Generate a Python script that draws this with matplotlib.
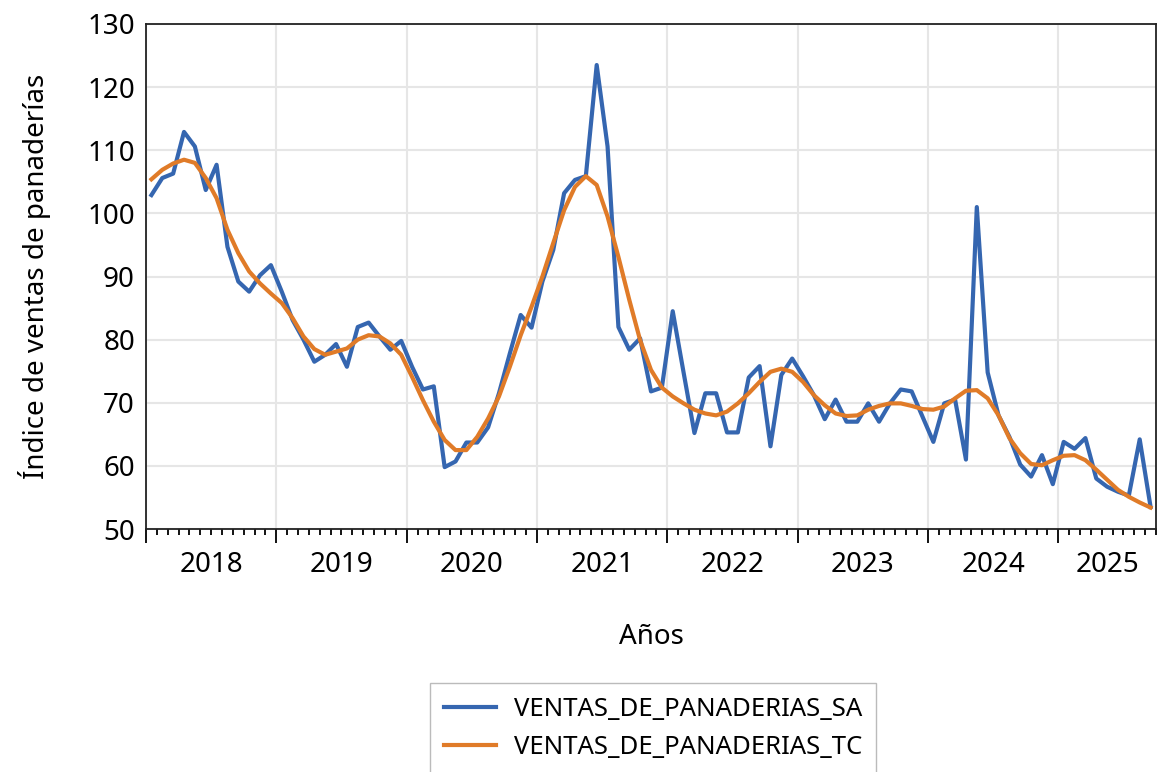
import matplotlib
matplotlib.use('agg')
import matplotlib.pyplot as plt
import matplotlib.transforms as mtransforms
import numpy as np

plt.rcParams['font.family'] = ['Noto Sans', 'DejaVu Sans']

# monthly series, Jan 2018 .. Sep 2025
ventas_sa = [
    102.9, 105.6, 106.3, 112.9, 110.6, 103.7, 107.7, 94.7, 89.2, 87.6, 90.2, 91.8,   # 2018
    87.6, 83.1, 80.0, 76.5, 77.6, 79.3, 75.7, 82.0, 82.7, 80.5, 78.4, 79.8,         # 2019
    75.7, 72.1, 72.6, 59.8, 60.7, 63.7, 63.7, 66.1, 71.5, 77.8, 83.9, 81.9,         # 2020
    89.2, 94.2, 103.2, 105.3, 105.9, 123.5, 110.6, 82.0, 78.4, 80.2, 71.8, 72.4,    # 2021
    84.5, 74.8, 65.2, 71.5, 71.5, 65.3, 65.3, 74.0, 75.8, 63.1, 74.4, 77.0,         # 2022
    74.2, 71.2, 67.4, 70.5, 67.0, 67.0, 69.9, 67.0, 69.9, 72.1, 71.8, 67.8,         # 2023
    63.8, 69.9, 70.5, 61.0, 101.0, 74.8, 68.0, 64.6, 60.2, 58.3, 61.7, 57.1,        # 2024
    63.8, 62.7, 64.4, 58.0, 56.7, 55.9, 55.3, 64.2, 53.5,                           # 2025
]
ventas_tc = [
    105.4, 106.9, 107.9, 108.5, 108.0, 105.6, 102.4, 97.4, 93.7, 90.8, 88.9, 87.3,
    85.8, 83.4, 80.5, 78.5, 77.6, 78.1, 78.6, 80.0, 80.7, 80.5, 79.4, 77.6,
    74.1, 70.4, 67.0, 64.1, 62.5, 62.5, 64.6, 67.5, 71.0, 75.7, 80.7, 85.2,
    90.0, 95.3, 100.5, 104.2, 105.9, 104.5, 99.5, 93.1, 86.3, 79.9, 75.2, 72.4,
    71.0, 69.9, 68.9, 68.3, 68.0, 68.6, 69.9, 71.5, 73.3, 74.9, 75.4, 74.9,
    73.3, 71.2, 69.6, 68.3, 67.9, 68.0, 68.9, 69.5, 69.9, 69.9, 69.5, 69.0,
    68.9, 69.4, 70.7, 71.9, 72.0, 70.7, 68.0, 64.4, 62.0, 60.3, 60.1, 60.9,
    61.6, 61.7, 60.9, 59.4, 57.8, 56.2, 55.1, 54.2, 53.4,
]
years = ['2018', '2019', '2020', '2021', '2022', '2023', '2024', '2025']

n = len(ventas_sa)
x = np.arange(n) + 0.5

fig = plt.figure(figsize=(11.61, 7.72), dpi=100)
ax = fig.add_axes([146 / 1161, 1 - 529 / 772, 1010 / 1161, 505 / 772])

ax.plot(x, ventas_sa, color='#3566b0', lw=3.0, label='VENTAS_DE_PANADERIAS_SA')
ax.plot(x, ventas_tc, color='#e07b28', lw=3.0, label='VENTAS_DE_PANADERIAS_TC')

ax.set_xlim(0, n)
ax.set_ylim(50, 130)
ax.set_yticks(range(50, 131, 10))
ax.tick_params(axis='y', length=0, pad=8, labelsize=20)

ax.set_xticks(np.arange(0, n, 12))
ax.set_xticks(np.arange(0, n + 1), minor=True)
ax.set_xticklabels([])
ax.tick_params(axis='x', which='major', length=10, width=1.3, direction='out')
ax.tick_params(axis='x', which='minor', length=4.5, width=1.3, direction='out')

trans = mtransforms.blended_transform_factory(ax.transData, ax.transAxes)
for k, yr in enumerate(years):
    start = 12 * k
    end = min(start + 12, n)
    ax.text((start + end) / 2, -0.072, yr, transform=trans, ha='center', va='center', fontsize=20)

ax.grid(True, which='major', color='#e6e6e6', lw=1.5)
ax.set_axisbelow(True)
for s in ax.spines.values():
    s.set_linewidth(1.3)
    s.set_color('#222222')

ax.set_xlabel('Años', fontsize=20, labelpad=54)
ax.set_ylabel('Índice de ventas de panaderías', fontsize=20, labelpad=26)

leg = fig.legend(loc='upper left', bbox_to_anchor=(430 / 1161, 1 - 683 / 772),
                 borderaxespad=0, fontsize=18.5, frameon=True, fancybox=False,
                 edgecolor='#aaaaaa', handlelength=2.0, handletextpad=0.7,
                 borderpad=0.55, labelspacing=0.5)
leg.get_frame().set_linewidth(1.0)

fig.savefig('out.png', dpi=100)
